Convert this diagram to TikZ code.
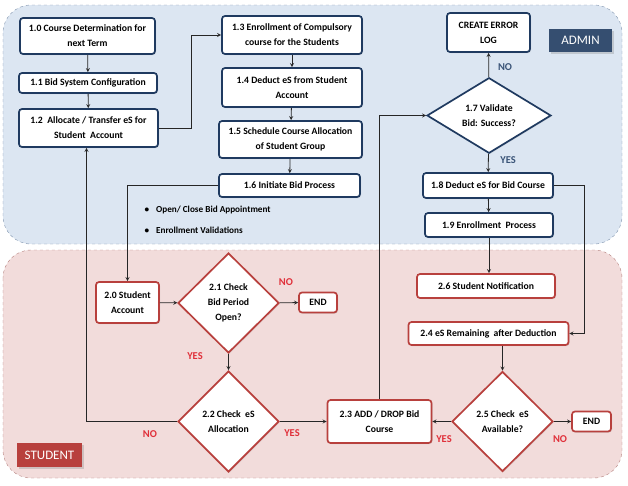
\documentclass[tikz,border=0pt]{standalone}
\usepackage{fontspec}
\setmainfont{Carlito}
\usetikzlibrary{shapes.geometric,shadows}
\definecolor{adminfill}{HTML}{DCE6F2}
\definecolor{adminline}{HTML}{7F93AD}
\definecolor{studfill}{HTML}{F2DCDB}
\definecolor{studline}{HTML}{B5827F}
\definecolor{navy}{HTML}{1F3A60}
\definecolor{redline}{HTML}{B8403D}
\definecolor{redtext}{HTML}{E0303A}
\definecolor{bluetext}{HTML}{3A5478}
\begin{document}
\begin{tikzpicture}[x=1pt,y=-1pt,font=\bfseries\fontsize{9.7}{15}\selectfont,
	arrow/.style={>=stealth,->,line width=0.8pt,draw=black!85},
	abox/.style={draw=navy,line width=1.7pt,fill=white,rounded corners=3pt,align=center,inner sep=1pt,drop shadow={opacity=0.25,shadow xshift=1pt,shadow yshift=-1pt}},
	sbox/.style={abox,draw=redline},
	dia/.style={diamond,draw=redline,line width=1.7pt,fill=white,align=center,inner sep=0pt,drop shadow={opacity=0.2,shadow xshift=1pt,shadow yshift=-1pt}},
	tag/.style={text=white,font=\fontsize{13}{14}\selectfont,drop shadow={opacity=0.3,shadow xshift=1.5pt,shadow yshift=-1.5pt}}]
	\useasboundingbox (0,0) rectangle (628,485);
	% swim lanes
	\draw[dashed,draw=adminline,fill=adminfill,rounded corners=28pt] (3,5) rectangle (622,244);
	\draw[dashed,draw=studline,fill=studfill,rounded corners=28pt] (3,250) rectangle (622,478);
	\node[tag,fill=navy!90,minimum width=63,minimum height=23] (admin) at (580.5,40.5) {ADMIN};
	\node[tag,fill=redline,minimum width=65,minimum height=24] (student) at (49.5,455) {STUDENT};
	
	% admin side
	\node[abox,minimum width=135,minimum height=36] (b10) at (87.5,36) {1.0 Course Determination for\\next Term};
	\node[abox,minimum width=138,minimum height=20] (b11) at (88,83) {1.1 Bid System Configuration};
	\node[abox,minimum width=139,minimum height=38] (b12) at (88.5,128) {1.2\ \ Allocate / Transfer eS for\\Student\ \ Account};
	\node[abox,minimum width=140,minimum height=38] (b13) at (292,35) {1.3 Enrollment of Compulsory\\course for the Students};
	\node[abox,minimum width=140,minimum height=39] (b14) at (292,87.5) {1.4 Deduct eS from Student\\Account};
	\node[abox,minimum width=143,minimum height=37] (b15) at (290.5,139.5) {1.5 Schedule Course Allocation\\of Student Group};
	\node[abox,minimum width=141,minimum height=23] (b16) at (289.5,185.5) {1.6 Initiate Bid Process};
	\node[abox,minimum width=83,minimum height=39] (err) at (488.5,32.5) {CREATE ERROR\\LOG};
	\node[dia,draw=navy,minimum width=124,minimum height=71] (v17) at (489,115.5) {1.7 Validate\\Bid: Success?};
	\node[abox,minimum width=130,minimum height=25] (b18) at (488,185.5) {1.8 Deduct eS for Bid Course};
	\node[abox,minimum width=128,minimum height=24] (b19) at (489,225) {1.9 Enrollment\ \ Process};
	\foreach \nhan/\vtri in {{Open/ Close Bid Appointment}/210,{Enrollment Validations}/230}
	\node[anchor=west,font=\bfseries\fontsize{9.2}{10}\selectfont] (bul\vtri) at (141,\vtri) {\textbullet\hspace{7pt}\nhan};
	
	% student side
	\node[sbox,minimum width=63,minimum height=41] (b20) at (127.5,302.5) {2.0 Student\\Account};
	\node[dia,minimum width=101,minimum height=100] (d21) at (228.5,303) {2.1 Check\\Bid Period\\Open?};
	\node[sbox,minimum width=38,minimum height=20] (end1) at (318,302.5) {END};
	\node[dia,minimum width=101,minimum height=101] (d22) at (228.5,421.5) {2.2 Check\ \ eS\\Allocation};
	\node[sbox,minimum width=104,minimum height=43] (b23) at (379.5,421.5) {2.3 ADD / DROP Bid\\Course};
	\node[dia,minimum width=101,minimum height=100] (d25) at (502.5,421.5) {2.5 Check\ \ eS\\Available?};
	\node[sbox,minimum width=39,minimum height=20] (end2) at (591.5,421.5) {END};
	\node[sbox,minimum width=138,minimum height=24] (b26) at (486,286) {2.6 Student Notification};
	\node[sbox,minimum width=160,minimum height=23] (b24) at (488.5,333.5) {2.4 eS Remaining\ \ after Deduction};
	
	% yes / no
	\foreach \nhan/\vtri/\nm in {NO/{(505,67)}/n17,YES/{(508,160)}/y17}
	\node[text=bluetext,font=\bfseries\fontsize{10.5}{11}\selectfont] (\nm) at \vtri {\nhan};
	\foreach \nhan/\vtri/\nm in {NO/{(286,282)}/n21,YES/{(195,356)}/y21,NO/{(150,434)}/n22,YES/{(292,433)}/y22,YES/{(444,439)}/y25,NO/{(560,439)}/n25}
	\node[text=redtext,font=\bfseries\fontsize{10.5}{11}\selectfont] (\nm) at \vtri {\nhan};
	
	% connectors
	\draw[arrow] (b10)--(b11);
	\draw[arrow] (b11)--(b12);
	\draw[arrow] (b12.east)--++(33,0)|-(b13.west);
	\draw[arrow] (b13)--(b14);
	\draw[arrow] (b14)--(b15);
	\draw[arrow] (b15)--(b16);
	\draw[arrow] (b16.west)-|(b20.north);
	\draw[arrow] (b20)--(d21);
	\draw[arrow] (d21)--(end1);
	\draw[arrow] (d21)--(d22);
	\draw[arrow] (d22.west)-|([xshift=-2pt]b12.south);
	\draw[arrow] (d22)--(b23);
	\draw[arrow] (b23.north)|-(v17.west);
	\draw[arrow] (v17)--(err);
	\draw[arrow] (v17)--(b18);
	\draw[arrow] (b18)--(b19);
	\draw[arrow] (b19.south)--(b19.south|-b26.north);
	\draw[arrow] (b18.east)--++(31,0)|-(b24.east);
	\draw[arrow] (d25.north|-b24.south)--(d25.north);
	\draw[arrow] (d25)--(b23);
	\draw[arrow] (d25)--(end2);
\end{tikzpicture}
\end{document}
